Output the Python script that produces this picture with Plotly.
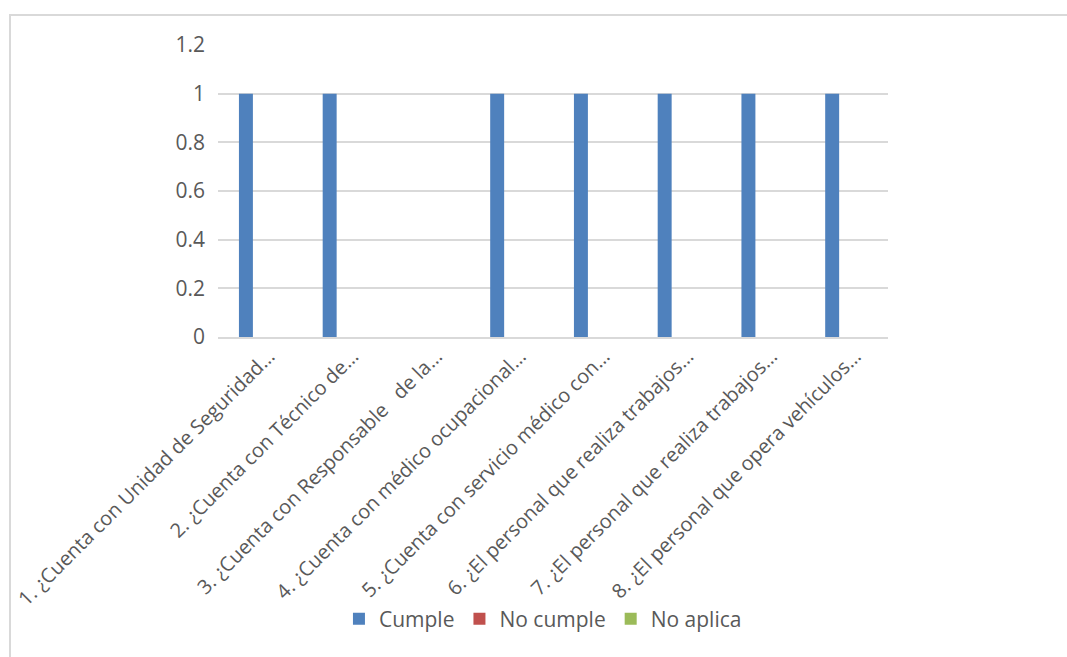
import plotly.graph_objects as go

# Categories (checklist questions, truncated as displayed on the axis)
preguntas = [
    "1. ¿Cuenta con Unidad de Seguridad…",
    "2. ¿Cuenta con Técnico de…",
    "3. ¿Cuenta con Responsable\u00a0\u00a0 de la…",
    "4. ¿Cuenta con médico ocupacional…",
    "5. ¿Cuenta con servicio médico con…",
    "6. ¿El personal que realiza trabajos…",
    "7. ¿El personal que realiza trabajos…",
    "8. ¿El personal que opera vehículos…",
]

cumple = [1, 1, 0, 1, 1, 1, 1, 1]
no_cumple = [0, 0, 0, 0, 0, 0, 0, 0]
no_aplica = [0, 0, 0, 0, 0, 0, 0, 0]

y_ticks = [0, 0.2, 0.4, 0.6, 0.8, 1, 1.2]
y_tick_labels = ["0", "0.2", "0.4", "0.6", "0.8", "1", "1.2"]

FONT = "Open Sans"
TEXT = "#595959"
GRID = "#d9d9d9"

fig = go.Figure()
for name, vals, color in [
    ("Cumple", cumple, "#4f81bd"),
    ("No cumple", no_cumple, "#c0504d"),
    ("No aplica", no_aplica, "#9bbb59"),
]:
    fig.add_trace(go.Bar(
        x=preguntas, y=vals, name=name,
        marker=dict(color=color, line=dict(width=0)),
    ))

W, H = 1067, 657
L, R, T, B = 218, 179, 45, 320
pw, ph = W - L - R, H - T - B


def px_x(p):
    return (p - L) / pw


def px_y(p):
    return (H - B - p) / ph


fig.update_layout(
    width=W, height=H,
    margin=dict(l=L, r=R, t=T, b=B),
    paper_bgcolor="white", plot_bgcolor="white",
    barmode="group", bargap=0.5, bargroupgap=0,
    font=dict(family=FONT, size=20, color=TEXT),
    showlegend=True,
    legend=dict(
        orientation="h", x=0.485, xanchor="center",
        y=px_y(619), yanchor="middle",
        font=dict(family=FONT, size=21, color=TEXT),
        itemwidth=30, tracegroupgap=0,
    ),
    xaxis=dict(
        tickangle=-45, showgrid=False, showline=True,
        linecolor=GRID, linewidth=1.5, ticks="",
        tickfont=dict(family=FONT, size=20, color=TEXT),
        ticklabelshift=9, ticklabelstandoff=-2,
        automargin=False,
    ),
    yaxis=dict(
        range=[0, 1.2], tickvals=y_ticks, ticktext=y_tick_labels,
        showgrid=True, gridcolor=GRID, gridwidth=1.5,
        zeroline=False, showline=False, ticks="",
        ticklabelstandoff=12,
        tickfont=dict(family=FONT, size=21, color=TEXT),
        automargin=False,
    ),
    shapes=[
        dict(type="rect", xref="paper", yref="paper",
             x0=px_x(10), x1=px_x(1090), y0=px_y(700), y1=px_y(15),
             line=dict(color=GRID, width=2), fillcolor="rgba(0,0,0,0)",
             layer="below"),
    ],
)

fig.write_html("out.html")
